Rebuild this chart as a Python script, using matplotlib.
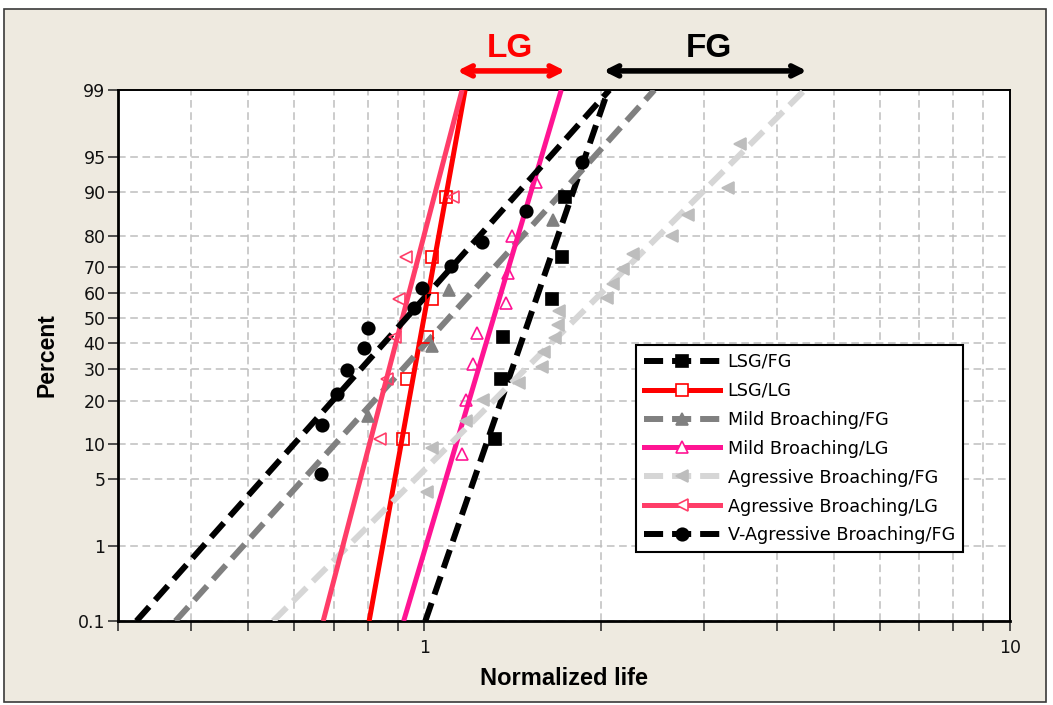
import math
from statistics import NormalDist

import numpy as np
import matplotlib
matplotlib.use("Agg")
import matplotlib.pyplot as plt
from matplotlib.lines import Line2D
from matplotlib.patches import Rectangle
from matplotlib.ticker import FixedLocator, NullLocator, FixedFormatter, NullFormatter

# plotting positions (median ranks, %) for samples of size 4, 6, 8, 12, 18
p4 = [15.9, 38.6, 61.4, 84.1]
p6 = [10.9, 26.6, 42.2, 57.8, 73.4, 89.1]
p8 = [8.3, 20.2, 32.1, 44.0, 56.0, 67.9, 79.8, 91.7]
p12 = [5.6, 13.7, 21.8, 29.8, 37.9, 46.0, 54.0, 62.1, 70.2, 78.2, 86.3, 94.4]
p18 = [3.8, 9.2, 14.7, 20.1, 25.5, 31.0, 36.4, 41.8, 47.3, 52.7,
       58.2, 63.6, 69.0, 74.5, 79.9, 85.3, 90.8, 96.2]

# normalized lives of the test points
lsg_fg = [1.32, 1.35, 1.36, 1.65, 1.72, 1.74]
lsg_lg = [0.92, 0.935, 1.01, 1.03, 1.03, 1.09]
mild_fg = [0.80, 1.03, 1.10, 1.66]
mild_lg = [1.16, 1.18, 1.21, 1.23, 1.38, 1.39, 1.41, 1.55]
agr_fg = [1.01, 1.03, 1.18, 1.26, 1.45, 1.59, 1.60, 1.67, 1.69, 1.70,
          2.05, 2.10, 2.18, 2.27, 2.65, 2.82, 3.30, 3.46]
agr_lg = [0.84, 0.865, 0.89, 0.905, 0.93, 1.12]
vagr_fg = [0.665, 0.67, 0.71, 0.737, 0.79, 0.80, 0.96, 0.99, 1.11, 1.255, 1.49, 1.86]

# fitted lognormal lines: life at 0.1 % and at 99 %
fit_lo = [1.004, 0.805, 0.376, 0.922, 0.552, 0.672, 0.3225]
fit_hi = [2.06, 1.174, 2.47, 1.713, 4.46, 1.160, 2.07]

names = ["LSG/FG", "LSG/LG", "Mild Broaching/FG", "Mild Broaching/LG",
         "Agressive Broaching/FG", "Agressive Broaching/LG", "V-Agressive Broaching/FG"]
xs = [lsg_fg, lsg_lg, mild_fg, mild_lg, agr_fg, agr_lg, vagr_fg]
ps = [p6, p6, p4, p8, p18, p6, p12]

line_col = ["black", "#FF0000", "#808080", "#FF1493", "#D6D6D6", "#FF3D68", "black"]
mark_col = ["black", "#FF0000", "#808080", "#FF1493", "#BDBDBD", "#FF3D68", "black"]
markers = ["s", "s", "^", "^", "<", "<", "o"]
filled = [True, False, True, False, True, False, True]
dashed = [True, False, True, False, True, False, True]
ticks_pct = [0.1, 1, 5, 10, 20, 30, 40, 50, 60, 70, 80, 90, 95, 99]

_nd = NormalDist()


def p_to_z(p):
    p = np.asarray(p, dtype=float) / 100.0
    p = np.clip(p, 1e-9, 1 - 1e-9)
    out = [(_nd.inv_cdf(v) if v == v else np.nan) for v in p.ravel()]
    return np.array(out, dtype=float).reshape(p.shape)


_erf = np.vectorize(math.erf, otypes=[float])


def z_to_p(z):
    z = np.asarray(z, dtype=float)
    return 50.0 * (1.0 + _erf(z / math.sqrt(2.0)))


fig = plt.figure(figsize=(10.53, 7.05), dpi=100)
fig.patches.append(Rectangle((0.004, 0.004), 0.989, 0.983, transform=fig.transFigure,
                             facecolor="#EEEAE0", edgecolor="#3a3a3a", lw=1.2, zorder=-10))
ax = fig.add_axes([0.1121, 0.1191, 0.8471, 0.7532])
ax.set_facecolor("white")

ax.set_xscale("log")
ax.set_yscale("function", functions=(p_to_z, z_to_p))
ax.set_xlim(0.3, 10)
ax.set_ylim(0.1, 99)

handles = []
for i in range(len(names)):
    ls = "--" if dashed[i] else "-"
    lw = 4.3 if dashed[i] else 3.6
    ln, = ax.plot([fit_lo[i], fit_hi[i]], [0.1, 99], color=line_col[i], lw=lw,
                  ls=ls, zorder=3, solid_capstyle="butt", dash_capstyle="butt")
    if dashed[i]:
        ln.set_dashes((3.2, 1.5))
    face = mark_col[i] if filled[i] else "none"
    ms = 9 if filled[i] else 8.5
    ax.plot(xs[i], ps[i], ls="none", marker=markers[i], ms=ms, mfc=face,
            mec=mark_col[i], mew=1.2, zorder=4)
    h = Line2D([], [], color=line_col[i], lw=lw, ls=ls, marker=markers[i], ms=ms,
               mfc=face if filled[i] else "white", mec=mark_col[i], mew=1.2)
    if dashed[i]:
        h.set_dashes((3.2, 1.5))
    handles.append(h)

# axes, ticks, grid
ax.yaxis.set_major_locator(FixedLocator(ticks_pct))
ax.yaxis.set_major_formatter(FixedFormatter([str(t) for t in ticks_pct]))
ax.yaxis.set_minor_locator(NullLocator())
ax.xaxis.set_major_locator(FixedLocator([1, 10]))
ax.xaxis.set_major_formatter(FixedFormatter(["1", "10"]))
ax.xaxis.set_minor_locator(FixedLocator([0.3, 0.4, 0.5, 0.6, 0.7, 0.8, 0.9,
                                         2, 3, 4, 5, 6, 7, 8, 9]))
ax.xaxis.set_minor_formatter(NullFormatter())

ax.grid(True, which="both", axis="x", color="#BEBEBE", ls=(0, (5, 3)), lw=1.1, zorder=0)
ax.grid(True, which="major", axis="y", color="#BEBEBE", ls=(0, (5, 3)), lw=1.1, zorder=0)
ax.tick_params(which="both", direction="out", length=7, width=1.2, color="#333333",
               labelsize=12.5, labelcolor="#111111")
ax.tick_params(axis="x", which="major", pad=6)
ax.tick_params(axis="y", which="major", pad=2)
for s in ax.spines.values():
    s.set_color("black")
    s.set_linewidth(1.4)
ax.spines["left"].set_linewidth(2)
ax.spines["bottom"].set_linewidth(2)

ax.set_xlabel("Normalized life", fontsize=17, fontweight="bold",
              family=["Liberation Sans", "DejaVu Sans"], labelpad=7)
ax.set_ylabel("Percent", fontsize=16.5, fontweight="bold",
              family=["Liberation Sans", "DejaVu Sans"], labelpad=14)

# LG / FG ranges above the plot
arrow_kw = dict(xycoords=("data", "axes fraction"), textcoords=("data", "axes fraction"),
                annotation_clip=False)
ax.annotate("", xy=(1.125, 1.036), xytext=(1.76, 1.036),
            arrowprops=dict(arrowstyle="<->", color="#FF0000", lw=4, mutation_scale=18),
            **arrow_kw)
ax.annotate("", xy=(2.0, 1.036), xytext=(4.55, 1.036),
            arrowprops=dict(arrowstyle="<->", color="black", lw=4, mutation_scale=18),
            **arrow_kw)
title_kw = dict(xycoords=("data", "axes fraction"), ha="center", va="center",
                fontsize=24, fontweight="bold", annotation_clip=False,
                family=["Liberation Sans Narrow", "Liberation Sans", "DejaVu Sans"])
ax.annotate("LG", xy=(1.40, 1.079), color="#FF0000", **title_kw)
ax.annotate("FG", xy=(3.06, 1.079), color="black", **title_kw)

leg = ax.legend(handles, names, loc="upper left", bbox_to_anchor=(0.5807, 0.52),
                borderaxespad=0, fontsize=12.7, handlelength=4.3, handletextpad=0.45,
                labelspacing=0.62, borderpad=0.45, fancybox=False,
                framealpha=1, edgecolor="black")
leg.get_frame().set_linewidth(1.5)
leg.set_zorder(10)

fig.savefig("out.png", dpi=100, facecolor="white")
